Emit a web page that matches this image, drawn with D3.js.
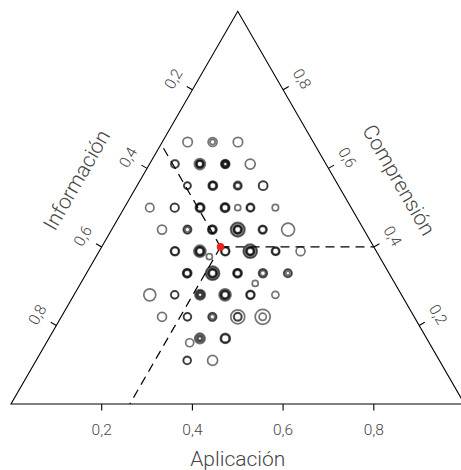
<!DOCTYPE html>
<html>
<head>
<meta charset="utf-8">
<script src="https://cdn.jsdelivr.net/npm/d3@7"></script>
<style>
  body { margin: 0; background: #fff; }
  text { font-family: Roboto, "Liberation Sans", sans-serif; font-weight: 300; fill: #454545; }
</style>
</head>
<body>
<div id="chart"></div>
<script>
// proporciones por posición (cada posición puede tener varias observaciones)
const aplicacion = [
  0.056, 0.111, 0.167,
  0.056, 0.111, 0.167, 0.222,
  0.111, 0.167, 0.222, 0.278,
  0.056, 0.111, 0.167, 0.222, 0.25, 0.278, 0.333,
  0.111, 0.167, 0.222, 0.278, 0.333, 0.389,
  0.167, 0.222, 0.25, 0.278, 0.333, 0.389, 0.444,
  0.222, 0.278, 0.333, 0.389, 0.444, 0.385,
  0.167, 0.222, 0.278, 0.333, 0.389, 0.444,
  0.222, 0.278, 0.333, 0.389, 0.444,
  0.333, 0.389, 0.316,
  0.333, 0.389
];
const comprension = [
  0.667, 0.667, 0.667,
  0.611, 0.611, 0.611, 0.611,
  0.556, 0.556, 0.556, 0.556,
  0.5, 0.5, 0.5, 0.5, 0.5, 0.5, 0.5,
  0.444, 0.444, 0.444, 0.444, 0.444, 0.444,
  0.389, 0.389, 0.375, 0.389, 0.389, 0.389, 0.389,
  0.333, 0.333, 0.333, 0.333, 0.333, 0.307,
  0.278, 0.278, 0.278, 0.278, 0.278, 0.278,
  0.222, 0.222, 0.222, 0.222, 0.222,
  0.167, 0.167, 0.156,
  0.111, 0.111
];
const informacion = [
  0.277, 0.222, 0.166,
  0.333, 0.278, 0.222, 0.167,
  0.333, 0.277, 0.222, 0.166,
  0.444, 0.389, 0.333, 0.278, 0.25, 0.222, 0.167,
  0.445, 0.389, 0.334, 0.278, 0.223, 0.167,
  0.444, 0.389, 0.375, 0.333, 0.278, 0.222, 0.167,
  0.445, 0.389, 0.334, 0.278, 0.223, 0.308,
  0.555, 0.5, 0.444, 0.389, 0.333, 0.278,
  0.556, 0.5, 0.445, 0.389, 0.334,
  0.5, 0.444, 0.528,
  0.556, 0.5
];
// tamaño relativo de cada observación en la posición
const tamanos = [
  [0.59], [0.56, 0.325], [0.59],
  [0.525, 0.44], [0.69, 0.525, 0.475, 0.41, 0.36], [0.56, 0.5, 0.44, 0.375, 0.31, 0.225], [0.625],
  [0.45, 0.41], [0.575, 0.51, 0.45, 0.39], [0.525, 0.44, 0.35], [0.575, 0.525],
  [0.525], [0.54, 0.5], [0.59, 0.525, 0.46, 0.4], [0.59, 0.525, 0.46, 0.4], [0.375], [0.525, 0.46, 0.41], [0.4],
  [0.56], [0.525, 0.46, 0.3], [0.575, 0.51, 0.45, 0.39], [0.9, 0.79, 0.575, 0.51, 0.45, 0.39], [0.54, 0.475, 0.41], [0.81],
  [0.56, 0.5, 0.45], [0.75, 0.6, 0.54, 0.475, 0.41], [0.375], [0.56, 0.51, 0.45], [0.875, 0.775, 0.575, 0.51, 0.45, 0.39], [0.525, 0.46, 0.4], [0.56],
  [0.575, 0.51, 0.45, 0.39], [0.875, 0.775, 0.6, 0.54, 0.475, 0.41], [0.575, 0.51, 0.45, 0.39], [0.55, 0.475, 0.325], [0.525, 0.45, 0.25], [0.375],
  [0.75], [0.5, 0.45], [0.65, 0.525, 0.46, 0.31, 0.25], [0.75, 0.6, 0.54, 0.475, 0.41], [0.56, 0.5, 0.44], [0.44],
  [0.56], [0.5, 0.45], [0.54, 0.46, 0.3], [0.875, 0.525, 0.45], [0.94, 0.45],
  [0.65, 0.5, 0.35, 0.225], [0.625, 0.55, 0.475], [0.5],
  [0.5, 0.45], [0.625]
];
// punto medio
const mediaAplicacion = 0.262;
const mediaComprension = 0.4;
const mediaInformacion = 0.338;

const tickValores = [0.2, 0.4, 0.6, 0.8];
const tickEtiquetas = ["0,2", "0,4", "0,6", "0,8"];
const titulos = { izquierda: "Información", derecha: "Comprensión", abajo: "Aplicación" };

const width = 461, height = 470;
const left = 11, right = 464.5, bottom = 404;
const side = right - left;
const h = side * Math.sqrt(3) / 2;

const x = d3.scaleLinear().domain([0, 1]).range([left, right]);
const y = d3.scaleLinear().domain([0, 1]).range([bottom, bottom - h]);
const r = d3.scaleLinear().domain([0, 1]).range([0, 8]);

// aplicacion, comprension -> pixel
const proj = (a, c) => [x(a + c / 2), y(c)];

const svg = d3.select("#chart")
  .append("svg")
  .attr("width", width)
  .attr("height", height);

const line = d3.line();

// triangulo
svg.append("path")
  .attr("d", line([proj(0, 0), proj(1, 0), proj(0, 1)]) + "Z")
  .attr("fill", "none")
  .attr("stroke", "#000")
  .attr("stroke-width", 1.1);

// ticks y etiquetas de los tres lados
const s3 = Math.sqrt(3) / 2;
const lados = [
  { pos: v => proj(v, 0), n: [0, 1], rot: 0, dist: 25.7, titulo: titulos.abajo },
  { pos: v => proj(1 - v, v), n: [s3, -0.5], rot: 60, dist: 21.5, titulo: titulos.derecha },
  { pos: v => proj(0, 1 - v), n: [-s3, -0.5], rot: -60, dist: 21.5, titulo: titulos.izquierda }
];

lados.forEach(lado => {
  const g = svg.append("g");
  tickValores.forEach((v, i) => {
    const [px, py] = lado.pos(v);
    g.append("line")
      .attr("x1", px).attr("y1", py)
      .attr("x2", px + lado.n[0] * 6.5).attr("y2", py + lado.n[1] * 6.5)
      .attr("stroke", "#000")
      .attr("stroke-width", 1.1);
    const tx = px + lado.n[0] * lado.dist, ty = py + lado.n[1] * lado.dist;
    g.append("text")
      .attr("transform", `translate(${tx},${ty}) rotate(${lado.rot})`)
      .attr("text-anchor", "middle")
      .attr("dominant-baseline", "central")
      .attr("font-size", 15.5)
      .text(tickEtiquetas[i]);
  });
  const [mx, my] = lado.pos(0.5);
  const d = 55;
  svg.append("text")
    .attr("transform", `translate(${mx + lado.n[0] * d},${my + lado.n[1] * d}) rotate(${lado.rot})`)
    .attr("text-anchor", "middle")
    .attr("dominant-baseline", "central")
    .attr("font-size", 21)
    .text(lado.titulo);
});

// observaciones
const obs = [];
aplicacion.forEach((a, i) => {
  tamanos[i].forEach(t => obs.push({ a, c: comprension[i], inf: informacion[i], t }));
});

svg.append("g")
  .selectAll("circle")
  .data(obs)
  .join("circle")
  .attr("cx", d => proj(d.a, d.c)[0])
  .attr("cy", d => proj(d.a, d.c)[1])
  .attr("r", d => r(d.t))
  .attr("fill", "none")
  .attr("stroke", "#000")
  .attr("stroke-opacity", 0.55)
  .attr("stroke-width", 1.7);

// lineas discontinuas desde la media
const m = proj(mediaAplicacion, mediaComprension);
const destinos = [
  proj(1 - mediaComprension, mediaComprension),
  proj(mediaAplicacion, 0),
  proj(0, 1 - mediaInformacion)
];
destinos.forEach(p => {
  svg.append("path")
    .attr("d", line([m, p]))
    .attr("fill", "none")
    .attr("stroke", "#000")
    .attr("stroke-width", 1.2)
    .attr("stroke-dasharray", "9,6");
});

svg.append("circle")
  .attr("cx", m[0])
  .attr("cy", m[1])
  .attr("r", 3.8)
  .attr("fill", "#e8241f");
</script>
</body>
</html>
